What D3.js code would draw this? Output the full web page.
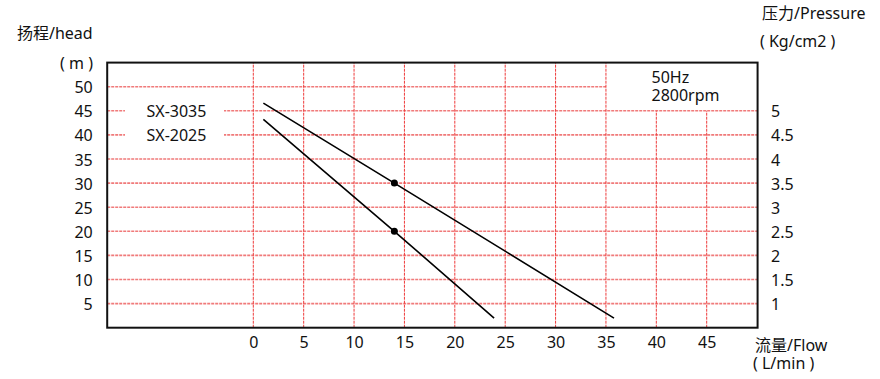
<!DOCTYPE html>
<html>
<head>
<meta charset="utf-8">
<script src="https://cdn.jsdelivr.net/npm/d3@7/dist/d3.min.js"></script>
<style>
  body { margin: 0; background: #fff; }
  svg text { font-family: "Noto Sans", "Noto Sans CJK SC", sans-serif; fill: #111; }
</style>
</head>
<body>
<svg id="chart" width="880" height="379"></svg>
<script>
// ---- data ----
const flowTicks = [0, 5, 10, 15, 20, 25, 30, 35, 40, 45];
const headTicks = [5, 10, 15, 20, 25, 30, 35, 40, 45, 50];
const pressureTicks = [1, 1.5, 2, 2.5, 3, 3.5, 4, 4.5, 5];
const seriesNames = ["SX-3035", "SX-2025"];
const sx3035 = [[1, 46.6], [14, 30], [35.8, 2]];
const sx2025 = [[1, 43.2], [14, 20], [23.9, 2]];
const markedPoints = [[14, 30], [14, 20]];
const infoLines = ["50Hz", "2800rpm"];
const flowTitle = ["流量/Flow", "( L/min )"];

// ---- scales ----
const x = d3.scaleLinear().domain([0, 45]).range([253.3, 706.7]);
const y = d3.scaleLinear().domain([0, 50]).range([327.7, 86.7]);
const yP = d3.scaleLinear().domain([0.5, 5.5]).range([327.7, 86.7]);

const xMin = -14.5, xMax = 50.05, yMax = 55;
const L = x(xMin), R = x(xMax), T = y(yMax), B = y(0);

const svg = d3.select("#chart");

// ---- grid ----
const grid = svg.append("g");
grid.selectAll("line.h").data(headTicks).join("line")
  .attr("x1", L).attr("x2", d => d === 50 ? x(35) : R)
  .attr("y1", d => y(d)).attr("y2", d => y(d))
  .attr("stroke", "#f07a7a").attr("stroke-width", 1.6)
  .attr("stroke-dasharray", "3,1");
grid.selectAll("line.v").data(flowTicks).join("line")
  .attr("x1", d => x(d)).attr("x2", d => x(d))
  .attr("y1", B).attr("y2", d => d > 35 ? y(45) : T)
  .attr("stroke", "#ee3b3b").attr("stroke-width", 1)
  .attr("stroke-dasharray", "3,1");

// ---- legend labels (white background breaks grid) ----
const legendY = [45, 40];
svg.append("g").selectAll("rect").data(seriesNames).join("rect")
  .attr("x", 125).attr("width", 99)
  .attr("y", (d, i) => y(legendY[i]) - 4).attr("height", 8)
  .attr("fill", "#fff");
svg.append("g").selectAll("text").data(seriesNames).join("text")
  .attr("x", 146.5).attr("y", (d, i) => y(legendY[i]) + 2)
  .attr("dominant-baseline", "middle")
  .attr("font-size", 16).text(d => d);

// ---- border ----
svg.append("rect")
  .attr("x", L).attr("y", T).attr("width", R - L).attr("height", B - T)
  .attr("fill", "none").attr("stroke", "#111").attr("stroke-width", 2);

// ---- curves ----
const line = d3.line().x(d => x(d[0])).y(d => y(d[1]));
svg.append("g").selectAll("path").data([sx3035, sx2025]).join("path")
  .attr("d", line).attr("fill", "none")
  .attr("stroke", "#000").attr("stroke-width", 1.6);
svg.append("g").selectAll("circle").data(markedPoints).join("circle")
  .attr("cx", d => x(d[0])).attr("cy", d => y(d[1])).attr("r", 3.5)
  .attr("fill", "#000");

// ---- axes ----
const fmt = d => String(d);
const ax = svg.append("g").attr("transform", `translate(0,${B})`)
  .call(d3.axisBottom(x).tickValues(flowTicks).tickSize(0).tickPadding(8.5).tickFormat(fmt));
const ay = svg.append("g").attr("transform", `translate(${L},0)`)
  .call(d3.axisLeft(y).tickValues(headTicks).tickSize(0).tickPadding(14.5).tickFormat(fmt));
const ap = svg.append("g").attr("transform", `translate(${R},0)`)
  .call(d3.axisRight(yP).tickValues(pressureTicks).tickSize(0).tickPadding(13.5).tickFormat(fmt));
[ax, ay, ap].forEach(a => {
  a.select(".domain").remove();
  a.selectAll("text").attr("font-size", 16)
    .style("font-family", '"Noto Sans", "Noto Sans CJK SC", sans-serif')
    .attr("fill", "#111");
});
ay.selectAll("text").attr("dy", "0.38em");
ap.selectAll("text").attr("dy", "0.38em");

// ---- titles ----
const txt = (s, tx, ty, anchor) => svg.append("text")
  .attr("x", tx).attr("y", ty).attr("text-anchor", anchor || "start")
  .attr("dominant-baseline", "middle").attr("font-size", 16).text(s);
txt("扬程/head", 17, 35);
txt("( m )", 93, 65, "end");
txt("压力/Pressure", 762, 15);
txt("( Kg/cm2 )", 760, 43);

// multi-line texts as a single text element with tspans
const multi = (lines, tx, ty, gap, dxs) => {
  const t = svg.append("text").attr("font-size", 16)
    .attr("x", tx).attr("y", ty).attr("dominant-baseline", "middle");
  lines.forEach((s, i) => t.append("tspan")
    .attr("x", tx + (dxs ? dxs[i] : 0)).attr("y", ty + i * gap)
    .attr("dominant-baseline", "middle").text(s));
};
multi(infoLines, 651.5, 79, 18);
multi(flowTitle, 755, 347, 18, [0, -2]);
</script>
</body>
</html>
